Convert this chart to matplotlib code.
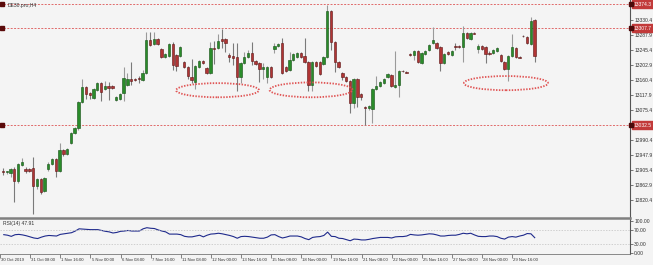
import numpy as np
import matplotlib
matplotlib.use("Agg")
import matplotlib.pyplot as plt
from matplotlib.patches import Ellipse
from matplotlib.lines import Line2D
import matplotlib.transforms as mtransforms

# DE30 H4 candles
opens = [12904, 12900, 12897, 12908, 12874, 12920, 12908, 12908, 12911, 12860,
         12880, 12846, 12908, 12922, 12937, 12905, 12962, 12951, 12982, 13010,
         13024, 13098, 13141, 13124, 13109, 13132, 13152, 13135, 13143, 13143,
         13104, 13107, 13124, 13146, 13163, 13163, 13166, 13160, 13180, 13274,
         13262, 13277, 13248, 13226, 13228, 13262, 13231, 13228, 13211, 13197,
         13169, 13155, 13197, 13214, 13194, 13180, 13251, 13251, 13277, 13277,
         13231, 13228, 13226, 13169, 13209, 13226, 13237, 13214, 13209, 13192,
         13169, 13197, 13248, 13257, 13265, 13197, 13189, 13217, 13226, 13237,
         13228, 13211, 13146, 13211, 13211, 13206, 13226, 13356, 13268, 13211,
         13180, 13169, 13158, 13095, 13163, 13121, 13084, 13081, 13078, 13135,
         13143, 13152, 13169, 13175, 13141, 13146, 13186, 13183, 13234, 13231,
         13243, 13209, 13234, 13245, 13265, 13265, 13254, 13209, 13240, 13231,
         13257, 13257, 13254, 13294, 13277, 13294, 13248, 13257, 13254, 13237,
         13237, 13243, 13231, 13211, 13192, 13228, 13251, 13226, 13285, 13282,
         13262, 13330]
highs = [12911, 12905, 12911, 12914, 12925, 12939, 12914, 12911, 12942, 12883,
         12883, 12886, 12928, 12939, 12939, 12982, 12965, 12968, 13013, 13027,
         13101, 13163, 13143, 13126, 13138, 13155, 13155, 13158, 13155, 13146,
         13115, 13124, 13197, 13180, 13211, 13166, 13172, 13189, 13296, 13296,
         13296, 13279, 13251, 13237, 13265, 13268, 13234, 13257, 13214, 13200,
         13220, 13203, 13217, 13217, 13197, 13268, 13271, 13291, 13305, 13279,
         13237, 13265, 13265, 13211, 13240, 13245, 13268, 13217, 13211, 13209,
         13200, 13200, 13265, 13265, 13279, 13200, 13240, 13237, 13240, 13240,
         13279, 13214, 13214, 13214, 13214, 13228, 13373, 13359, 13271, 13214,
         13183, 13172, 13160, 13166, 13166, 13124, 13087, 13090, 13138, 13172,
         13158, 13166, 13180, 13177, 13243, 13189, 13189, 13186, 13237, 13245,
         13245, 13240, 13245, 13262, 13311, 13268, 13257, 13237, 13243, 13245,
         13265, 13260, 13313, 13296, 13296, 13296, 13262, 13260, 13257, 13243,
         13248, 13254, 13234, 13214, 13231, 13291, 13254, 13228, 13288, 13285,
         13339, 13333]
lows = [12891, 12894, 12886, 12815, 12871, 12917, 12897, 12900, 12781, 12854,
        12840, 12843, 12905, 12920, 12886, 12900, 12945, 12948, 12979, 13007,
        13019, 13095, 13107, 13107, 13107, 13129, 13101, 13132, 13104, 13135,
        13101, 13104, 13101, 13143, 13146, 13158, 13152, 13158, 13177, 13257,
        13260, 13260, 13223, 13223, 13226, 13189, 13186, 13226, 13194, 13163,
        13152, 13135, 13194, 13206, 13177, 13177, 13206, 13248, 13251, 13240,
        13211, 13203, 13129, 13152, 13206, 13223, 13203, 13203, 13155, 13163,
        13152, 13166, 13237, 13254, 13177, 13183, 13186, 13214, 13223, 13223,
        13209, 13129, 13129, 13197, 13175, 13203, 13223, 13245, 13183, 13194,
        13160, 13155, 13067, 13081, 13084, 13104, 13033, 13075, 13039, 13132,
        13141, 13149, 13166, 13141, 13138, 13112, 13183, 13180, 13228, 13217,
        13209, 13206, 13231, 13243, 13262, 13248, 13186, 13206, 13231, 13228,
        13245, 13251, 13211, 13277, 13274, 13291, 13237, 13245, 13209, 13231,
        13234, 13240, 13211, 13189, 13158, 13226, 13223, 13223, 13282, 13262,
        13260, 13211]
closes = [12901, 12903, 12908, 12874, 12922, 12928, 12905, 12903, 12860, 12880,
          12843, 12883, 12922, 12937, 12905, 12962, 12951, 12965, 13010, 13024,
          13098, 13141, 13121, 13118, 13135, 13152, 13126, 13143, 13138, 13138,
          13112, 13121, 13166, 13163, 13158, 13162, 13165, 13180, 13274, 13260,
          13277, 13262, 13226, 13234, 13262, 13203, 13200, 13254, 13197, 13172,
          13160, 13200, 13214, 13209, 13180, 13251, 13248, 13271, 13271, 13265,
          13226, 13223, 13169, 13209, 13226, 13237, 13214, 13206, 13192, 13197,
          13197, 13169, 13257, 13262, 13180, 13186, 13217, 13234, 13237, 13226,
          13211, 13146, 13211, 13200, 13177, 13226, 13356, 13268, 13211, 13197,
          13169, 13158, 13095, 13163, 13112, 13112, 13081, 13087, 13135, 13143,
          13155, 13163, 13177, 13143, 13146, 13186, 13185, 13182, 13231, 13243,
          13211, 13237, 13243, 13260, 13274, 13251, 13209, 13234, 13234, 13243,
          13255, 13254, 13294, 13279, 13294, 13292, 13257, 13248, 13234, 13235,
          13245, 13251, 13214, 13192, 13228, 13254, 13226, 13224, 13284, 13265,
          13328, 13228]

rsi = [57.2, 55.5, 52, 57, 58, 56.4, 53.8, 50.4, 47, 45.3,
       49.6, 53, 54.7, 53.8, 53, 58, 59.8, 61.5, 63.2, 68.3,
       75.1, 74.3, 73.4, 72.6, 72.6, 72.6, 70, 67.4, 65.7, 62.3,
       64, 67.4, 68.3, 70, 68.3, 68.3, 68.3, 75.1, 78.5, 76.8,
       76, 71.7, 68.3, 65.7, 58.9, 58.9, 58.9, 57.2, 52.1, 50.4,
       50.4, 53, 55.5, 50.4, 55.5, 59, 59.8, 61.5, 59.8, 57.2,
       54.7, 51.3, 46.2, 51.3, 52.1, 51.3, 49.6, 47.9, 46.2, 46.2,
       49.6, 56.4, 57.2, 51.3, 47, 49.6, 53, 53, 53, 50.4,
       45.3, 41.9, 48.7, 50.4, 51.3, 54.7, 65, 52, 51.3, 46.2,
       45.3, 41.9, 38.5, 43.6, 42.8, 41, 41, 42.8, 45.3, 47,
       48.7, 48.7, 48.7, 47, 50.4, 51.3, 51.3, 53, 58, 56.4,
       55.5, 56.4, 58, 59.8, 59, 56.4, 53, 53, 54.7, 55.5,
       55.5, 58, 61.5, 59.8, 61.5, 56.4, 52.1, 51.3, 51.3, 53,
       53, 51.3, 46.2, 43.6, 49.6, 51.3, 49.6, 53, 55.5, 60.6,
       59.8, 47.91]

price_ticks = [13330.4, 13287.9, 13245.4, 13202.9, 13160.4, 13117.9, 13075.4,
               12990.4, 12947.9, 12905.4, 12862.9, 12820.4]
levels = [13374.3, 13307.7, 13032.5]
rsi_ticks = [100, 70, 30, 0]

time_pos = list(range(-1, 136, 8))
time_labels = ["30 Oct 2019", "31 Oct 08:00", "1 Nov 16:00", "5 Nov 00:00",
               "6 Nov 08:00", "7 Nov 16:00", "11 Nov 08:00", "12 Nov 00:00",
               "13 Nov 16:00", "15 Nov 08:00", "18 Nov 00:00", "19 Nov 16:00",
               "21 Nov 08:00", "22 Nov 00:00", "25 Nov 16:00", "27 Nov 08:00",
               "28 Nov 00:00", "29 Nov 16:00"]

# zones circled on the chart: (bar index, price, width in bars, height in points)
zones = [(56.9, 13132, 22, 40), (81.7, 13133, 22, 42), (133.4, 13152, 22.3, 40)]

BG = "#f4f4f4"
W, H = 653, 265
FS = 3.6
plt.rcParams["font.family"] = ["Liberation Sans", "DejaVu Sans"]

fig = plt.figure(figsize=(W / 100, H / 100), dpi=100, facecolor=BG)
ax = fig.add_axes([0, (H - 216.5) / H, 630 / W, 216.5 / H], facecolor=BG)
ax2 = fig.add_axes([0, (H - 253.5) / H, 630 / W, 34.5 / H], facecolor=BG)

o = np.array(opens, float)
c = np.array(closes, float)
hi = np.array(highs, float)
lo = np.array(lows, float)
idx = np.arange(len(c))
up = c >= o

wick_col = np.where(up, "#9a9a9a", "#7a7a7a")
ax.vlines(idx, lo, hi, colors=wick_col, linewidth=0.8, zorder=2)
body_lo = np.minimum(o, c)
body_h = np.maximum(np.abs(c - o), 1.8)
ax.bar(idx[up], body_h[up], bottom=body_lo[up], width=0.62,
       color="#2a8c2a", edgecolor="#124f12", linewidth=0.4, zorder=3)
ax.bar(idx[~up], body_h[~up], bottom=body_lo[~up], width=0.62,
       color="#b03434", edgecolor="#5c1414", linewidth=0.4, zorder=3)

for lv in levels:
    ax.axhline(lv, color="#e06a6a", linewidth=0.7, linestyle=(0, (2, 1.5)), zorder=1)
    ax.plot([0.003], [lv], marker="s", markersize=2.2, color="#5a0a0a",
            transform=ax.get_yaxis_transform(), clip_on=False, zorder=5)
    ax.text(1.006, lv, f"{lv:.1f}", transform=ax.get_yaxis_transform(),
            fontsize=FS, color="white", va="center", ha="left", zorder=6,
            clip_on=False,
            bbox=dict(boxstyle="square,pad=0.3", facecolor="#c23a3a",
                      edgecolor="#c23a3a"))
    ax.plot([1.002], [lv], marker="s", markersize=2.2, color="#4a0a0a",
            transform=ax.get_yaxis_transform(), clip_on=False, zorder=7)

for xc, yc, w, h in zones:
    ax.add_patch(Ellipse((xc, yc), w, h, fill=False, edgecolor="#e05555",
                         linewidth=1.3, linestyle=(0, (0.8, 0.8)), zorder=4))

ax.set_xlim(-0.8, 166.3)
ax.set_ylim(12775, 13387)
ax.yaxis.tick_right()
ax.set_yticks(price_ticks)
ax.set_yticklabels([f"{t:.1f}" for t in price_ticks])
ax.tick_params(axis="y", length=2, width=0.5, color="#444444", labelsize=FS,
               pad=1, labelcolor="#333333")
ax.set_xticks([])
for s in ["top", "left", "bottom"]:
    ax.spines[s].set_visible(False)
ax.spines["right"].set_color("#555555")
ax.spines["right"].set_linewidth(0.8)
ax.text(0.012, 0.985, "DE30.pro,H4", transform=ax.transAxes, fontsize=FS,
        color="#333333", va="top", ha="left")

# RSI pane
ax2.plot(idx, rsi, color="#1f2a8c", linewidth=0.8)
for lv in (70, 30):
    ax2.axhline(lv, color="#c0c0c0", linewidth=0.5, linestyle=(0, (2, 2)))
ax2.set_xlim(-0.8, 166.3)
ax2.set_ylim(-0.6, 105.2)
ax2.yaxis.tick_right()
ax2.set_yticks(rsi_ticks)
ax2.set_yticklabels([f"{t:.2f}" for t in rsi_ticks])
ax2.tick_params(axis="y", length=2, width=0.5, color="#444444", labelsize=FS,
                pad=1, labelcolor="#333333")
ax2.set_xticks(time_pos)
ax2.set_xticklabels(time_labels)
ax2.tick_params(axis="x", length=3, width=0.5, color="#555555", labelsize=3.1,
                pad=0.3, labelcolor="#333333")
shift = mtransforms.ScaledTranslation(1.2 / 100, 0, fig.dpi_scale_trans)
for lbl in ax2.get_xticklabels():
    lbl.set_ha("left")
    lbl.set_transform(lbl.get_transform() + shift)
for s in ["top", "left"]:
    ax2.spines[s].set_visible(False)
ax2.spines["right"].set_color("#555555")
ax2.spines["right"].set_linewidth(0.8)
ax2.spines["bottom"].set_color("#777777")
ax2.spines["bottom"].set_linewidth(0.6)
ax2.text(0.004, 0.93, f"RSI(14) {rsi[-1]:.2f}", transform=ax2.transAxes,
         fontsize=FS, color="#333333", va="top", ha="left")

# separator between the panes
ysep = 1 - 217.6 / H
fig.add_artist(Line2D([0, 630 / W], [ysep, ysep], color="#808080",
                      linewidth=1.8, transform=fig.transFigure))

fig.savefig("out.png", dpi=100, facecolor=BG)
